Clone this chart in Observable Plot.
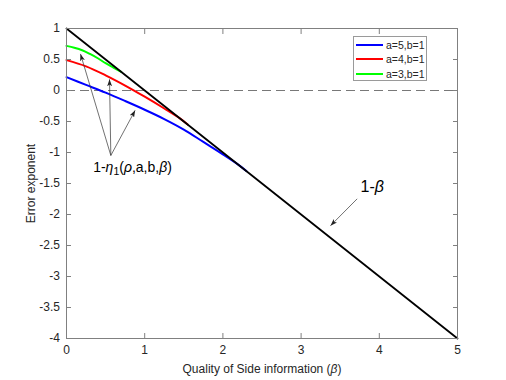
<!DOCTYPE html>
<html><head><meta charset="utf-8">
<script src="https://cdn.jsdelivr.net/npm/d3@7"></script>
<script src="https://cdn.jsdelivr.net/npm/@observablehq/plot@0.6"></script>
<style>
body{margin:0;background:#fff;font-family:"Liberation Sans",Arial,sans-serif;}
#wrap{position:relative;width:506px;height:380px;}
#legend{position:absolute;left:353px;top:36px;width:74px;height:45px;border:1px solid #9a9a9a;background:#fff;font-size:10.5px;color:#262626;box-sizing:border-box;padding-top:1px;}
.row{display:flex;align-items:center;height:14.3px;}
.sw{width:27px;height:2px;margin-left:2px;margin-right:3px;}
</style></head><body><div id="wrap"></div>
<script>
// ---- data ----
const seriesNames = ["a=5,b=1", "a=4,b=1", "a=3,b=1"];
const seriesColors = ["#0000ff", "#ff0000", "#00ff00"];

const betaBlue = [0, 0.25, 0.5, 0.75, 1.0, 1.25, 1.5, 1.75, 2.0, 2.2, 2.3];
const valBlue  = [0.215, 0.09, -0.035, -0.17, -0.31, -0.46, -0.63, -0.83, -1.03, -1.2, -1.3];

const betaRed = [0, 0.25, 0.5, 0.75, 1.0, 1.25, 1.45, 1.55];
const valRed  = [0.49, 0.39, 0.245, 0.08, -0.10, -0.29, -0.45, -0.55];

const betaGreen = [0, 0.1, 0.2, 0.3, 0.4, 0.5, 0.6, 0.7];
const valGreen  = [0.72, 0.69, 0.65, 0.59, 0.52, 0.44, 0.37, 0.30];

const betaLine = [0, 5];
const valLine  = [1, -4];

const xTicks = [0, 1, 2, 3, 4, 5];
const yTicks = [-4, -3.5, -3, -2.5, -2, -1.5, -1, -0.5, 0, 0.5, 1];
const yTickLabels = ["-4", "-3.5", "-3", "-2.5", "-2", "-1.5", "-1", "-0.5", "0", "0.5", "1"];

// annotations
const annotTexts = ["1-η1(ρ,a,b,β)", "1-β"];
const annotX = [0.844, 3.91];
const annotY = [-1.24, -1.55];
const annotSize = [14, 16];
const arrowX1 = [0.567, 0.567, 0.567, 3.717];
const arrowY1 = [-1.048, -1.048, -1.048, -1.747];
const arrowX2 = [0.179, 0.55, 0.878, 3.376];
const arrowY2 = [0.59, 0.18, -0.32, -2.18];

const xLabel = "Quality of Side information (β)";
const yLabel = "Error exponent";

// ---- build ----
const mk = (xs, ys) => xs.map((x, i) => ({x, y: ys[i]}));
const blue = mk(betaBlue, valBlue), red = mk(betaRed, valRed), green = mk(betaGreen, valGreen), black = mk(betaLine, valLine);
const texts = annotTexts.map((t, i) => ({t, x: annotX[i], y: annotY[i], s: annotSize[i]}));
const arrows = arrowX1.map((x1, i) => ({x1, y1: arrowY1[i], x2: arrowX2[i], y2: arrowY2[i]}));

const plot = Plot.plot({
  width: 506, height: 380,
  marginLeft: 66, marginRight: 49, marginTop: 28, marginBottom: 42,
  style: {fontFamily: "Liberation Sans, Arial, sans-serif", fontSize: "12px", color: "#262626", background: "#fff"},
  x: {domain: [0, 5]},
  y: {domain: [-4, 1]},
  marks: [
    Plot.ruleY([0], {stroke: "#555", strokeWidth: 0.8, strokeDasharray: "9,5"}),
    Plot.line(blue, {x: "x", y: "y", stroke: seriesColors[0], strokeWidth: 2, curve: "catmull-rom"}),
    Plot.line(red, {x: "x", y: "y", stroke: seriesColors[1], strokeWidth: 2, curve: "catmull-rom"}),
    Plot.line(green, {x: "x", y: "y", stroke: seriesColors[2], strokeWidth: 2, curve: "catmull-rom"}),
    Plot.line(black, {x: "x", y: "y", stroke: "#000", strokeWidth: 1.8}),
    Plot.link(arrows, {x1: "x1", y1: "y1", x2: "x2", y2: "y2", stroke: "#333", strokeWidth: 0.7}),
    Plot.text(texts, {x: "x", y: "y", text: "t", fontSize: "s", fill: "#000"}),
    Plot.frame({stroke: "#808080"}),
    Plot.axisX(xTicks, {anchor: "bottom", tickSize: -5, tickPadding: 12, fontSize: 12, stroke: "#808080", fill: "#262626", label: xLabel, labelAnchor: "center", labelOffset: 34}),
    Plot.axisX(xTicks, {anchor: "top", tickSize: -5, stroke: "#808080", tickFormat: () => "", label: null}),
    Plot.axisY(yTicks, {anchor: "left", tickSize: -5, tickPadding: 11.5, fontSize: 12, stroke: "#808080", fill: "#262626", tickFormat: d => yTickLabels[yTicks.indexOf(d)], label: yLabel, labelAnchor: "center", labelArrow: "none", labelOffset: 40}),
    Plot.axisY(yTicks, {anchor: "right", tickSize: -5, stroke: "#808080", tickFormat: () => "", label: null})
  ]
});

const svg = d3.select(plot);
// filled arrowheads (MATLAB style)
svg.insert("defs", ":first-child").append("marker")
  .attr("id", "ahead").attr("viewBox", "0 0 10 10").attr("refX", 10).attr("refY", 5)
  .attr("markerWidth", 7).attr("markerHeight", 5).attr("markerUnits", "userSpaceOnUse")
  .attr("orient", "auto").attr("preserveAspectRatio", "none")
  .append("path").attr("d", "M0,0L10,5L0,10L2.5,5Z").attr("fill", "#222");
svg.selectAll("g[aria-label='link'] path").attr("marker-end", "url(#ahead)");

// rich text: italics / subscript
svg.selectAll("text").each(function() {
  const el = d3.select(this);
  const txt = this.textContent;
  if (txt === annotTexts[0]) {
    el.text("");
    const parts = [["1-", false, 0], ["η", true, 0], ["1", false, 3], ["(", false, -3], ["ρ", true, 0], [",a,b,", false, 0], ["β", true, 0], [")", false, 0]];
    parts.forEach(([s, it, dy]) => {
      const ts = el.append("tspan").text(s);
      if (it) ts.attr("font-style", "italic");
      if (dy) ts.attr("dy", dy);
      if (s === "1" && dy) ts.attr("font-size", "10.5px");
    });
  } else if (txt === annotTexts[1]) {
    el.text("");
    el.append("tspan").text("1-");
    el.append("tspan").text("β").attr("font-style", "italic");
  } else if (txt.startsWith("Quality of Side")) {
    el.text("");
    el.append("tspan").text("Quality of Side information (");
    el.append("tspan").text("β").attr("font-style", "italic");
    el.append("tspan").text(")");
  }
});

const wrap = document.getElementById("wrap");
wrap.appendChild(plot);
const legend = document.createElement("div");
legend.id = "legend";
seriesNames.forEach((n, i) => {
  const row = document.createElement("div");
  row.className = "row";
  row.innerHTML = `<span class="sw" style="background:${seriesColors[i]}"></span><span>${n}</span>`;
  legend.appendChild(row);
});
wrap.appendChild(legend);
</script>
</body></html>
